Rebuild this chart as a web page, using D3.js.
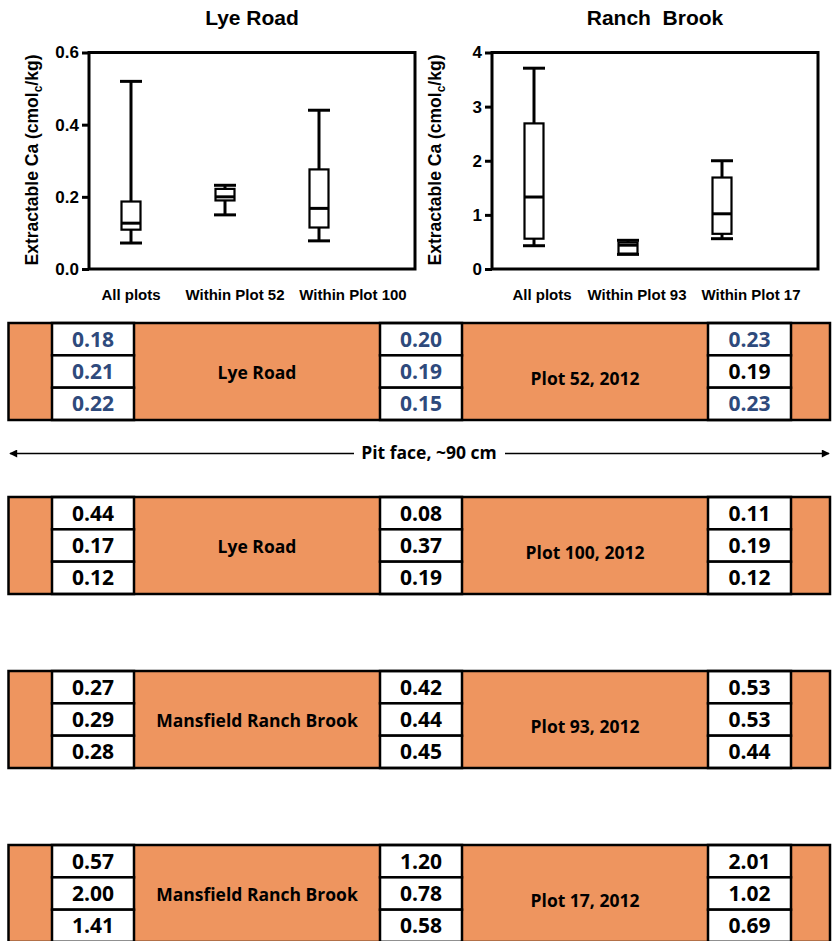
<!DOCTYPE html>
<html>
<head>
<meta charset="utf-8">
<script src="https://cdn.jsdelivr.net/npm/d3@7/dist/d3.min.js"></script>
<style>
  html, body { margin: 0; padding: 0; background: #fff; }
  svg { display: block; }
</style>
</head>
<body>
<svg id="chart" width="832" height="941"></svg>
<script>
// ---------- Box plot data ----------
const lyeCategories = ["All plots", "Within Plot 52", "Within Plot 100"];
const lyeMin = [0.072, 0.15, 0.078];
const lyeQ1  = [0.109, 0.19, 0.115];
const lyeMed = [0.127, 0.20, 0.168];
const lyeQ3  = [0.187, 0.222, 0.276];
const lyeMax = [0.52, 0.232, 0.44];
const lyeTicks = [0.0, 0.2, 0.4, 0.6];

const rbCategories = ["All plots", "Within Plot 93", "Within Plot 17"];
const rbMin = [0.43, 0.27, 0.56];
const rbQ1  = [0.56, 0.285, 0.65];
const rbMed = [1.33, 0.44, 1.02];
const rbQ3  = [2.69, 0.49, 1.69];
const rbMax = [3.71, 0.53, 2.0];
const rbTicks = [0, 1, 2, 3, 4];

// ---------- Table data ----------
const siteLabels = ["Lye Road", "Lye Road", "Mansfield Ranch Brook", "Mansfield Ranch Brook"];
const plotLabels = ["Plot 52, 2012", "Plot 100, 2012", "Plot 93, 2012", "Plot 17, 2012"];
const colA = [["0.18", "0.21", "0.22"], ["0.44", "0.17", "0.12"], ["0.27", "0.29", "0.28"], ["0.57", "2.00", "1.41"]];
const colB = [["0.20", "0.19", "0.15"], ["0.08", "0.37", "0.19"], ["0.42", "0.44", "0.45"], ["1.20", "0.78", "0.58"]];
const colC = [["0.23", "0.19", "0.23"], ["0.11", "0.19", "0.12"], ["0.53", "0.53", "0.44"], ["2.01", "1.02", "0.69"]];
// which values are shown in blue (first panel)
const blueA = [[1, 1, 1], [0, 0, 0], [0, 0, 0], [0, 0, 0]];
const blueB = [[1, 1, 1], [0, 0, 0], [0, 0, 0], [0, 0, 0]];
const blueC = [[1, 0, 1], [0, 0, 0], [0, 0, 0], [0, 0, 0]];

const svg = d3.select("#chart");
const ARIAL = "'Liberation Sans', Arial, sans-serif";
const CAL = "'Open Sans', Lato, sans-serif";
const ORANGE = "#EE955F";
const BLUE = "#2E4A7C";

function boxChart(cfg) {
  const g = svg.append("g");
  const x0 = cfg.left, x1 = cfg.left + 326, y0 = 52.5, y1 = 269;
  const y = d3.scaleLinear().domain([0, cfg.ymax]).range([y1, y0]);
  const x = d3.scalePoint().domain(cfg.cats).range([x0 + 42, x0 + 230]);
  // category labels are offset from the box centres in the original layout
  const xl = d3.scaleOrdinal().domain(cfg.cats).range(cfg.labelOffsets.map(o => x0 + o));

  // title
  g.append("text").attr("x", (x0 + x1) / 2).attr("y", 25)
    .attr("text-anchor", "middle").attr("font-family", ARIAL)
    .attr("font-weight", "bold").attr("font-size", 21)
    .attr("xml:space", "preserve").style("white-space", "pre")
    .text(cfg.title);

  // y axis
  const axis = d3.axisLeft(y).tickValues(cfg.ticks).tickFormat(cfg.fmt).tickSize(7).tickPadding(3);
  const ag = g.append("g").attr("transform", `translate(${x0},0)`).call(axis);
  ag.select(".domain").remove();
  ag.selectAll(".tick line").attr("stroke", "#000").attr("stroke-width", 3);
  ag.selectAll(".tick text").attr("font-family", ARIAL).attr("font-weight", "bold")
    .attr("font-size", 17).attr("fill", "#000");

  // frame
  g.append("rect").attr("x", x0).attr("y", y0).attr("width", x1 - x0).attr("height", y1 - y0)
    .attr("fill", "none").attr("stroke", "#000").attr("stroke-width", 3);

  // y label
  const yl = g.append("text").attr("transform", `translate(${cfg.left - 51},160) rotate(-90)`)
    .attr("text-anchor", "middle").attr("font-family", ARIAL).attr("font-weight", "bold")
    .attr("font-size", 17.5);
  yl.append("tspan").text("Extractable Ca (cmol");
  yl.append("tspan").attr("font-size", 12).attr("dy", 4).text("c");
  yl.append("tspan").attr("dy", -4).text("/kg)");

  // boxes
  const bw = 19, cw = 22;
  cfg.cats.forEach((c, i) => {
    const cx = x(c);
    const bg = g.append("g");
    bg.append("line").attr("x1", cx).attr("x2", cx).attr("y1", y(cfg.max[i])).attr("y2", y(cfg.q3[i]))
      .attr("stroke", "#000").attr("stroke-width", 3);
    bg.append("line").attr("x1", cx).attr("x2", cx).attr("y1", y(cfg.q1[i])).attr("y2", y(cfg.min[i]))
      .attr("stroke", "#000").attr("stroke-width", 3);
    [cfg.max[i], cfg.min[i]].forEach(v => {
      bg.append("line").attr("x1", cx - cw / 2).attr("x2", cx + cw / 2).attr("y1", y(v)).attr("y2", y(v))
        .attr("stroke", "#000").attr("stroke-width", 3);
    });
    bg.append("rect").attr("x", cx - bw / 2).attr("y", y(cfg.q3[i])).attr("width", bw)
      .attr("height", y(cfg.q1[i]) - y(cfg.q3[i])).attr("fill", "#fff")
      .attr("stroke", "#000").attr("stroke-width", 2.2);
    bg.append("line").attr("x1", cx - bw / 2).attr("x2", cx + bw / 2).attr("y1", y(cfg.med[i])).attr("y2", y(cfg.med[i]))
      .attr("stroke", "#000").attr("stroke-width", 3);
    // category label
    g.append("text").attr("x", xl(c)).attr("y", 300).attr("text-anchor", "middle")
      .attr("font-family", ARIAL).attr("font-weight", "bold").attr("font-size", 15)
      .text(c);
  });
}

boxChart({ left: 89, title: "Lye Road", ymax: 0.6, ticks: lyeTicks, fmt: d3.format(".1f"),
  cats: lyeCategories, min: lyeMin, q1: lyeQ1, med: lyeMed, q3: lyeQ3, max: lyeMax,
  labelOffsets: [42, 146, 264] });
boxChart({ left: 492, title: "Ranch  Brook", ymax: 4, ticks: rbTicks, fmt: d3.format("d"),
  cats: rbCategories, min: rbMin, q1: rbQ1, med: rbMed, q3: rbQ3, max: rbMax,
  labelOffsets: [50, 145, 259] });

// ---------- Tables ----------
const colX = [8.5, 52, 134, 380, 462, 708, 791, 830];
const tableTops = [323, 497, 671, 845];
const tableH = 97;

tableTops.forEach((top, t) => {
  const g = svg.append("g");
  const rowY = d3.scaleBand().domain([0, 1, 2]).range([top, top + tableH]);
  // orange background
  g.append("rect").attr("x", colX[0]).attr("y", top).attr("width", colX[7] - colX[0]).attr("height", tableH)
    .attr("fill", ORANGE);
  // number columns
  const cols = [[colX[1], colX[2], colA[t], blueA[t]], [colX[3], colX[4], colB[t], blueB[t]], [colX[5], colX[6], colC[t], blueC[t]]];
  cols.forEach(([a, b, vals, blues]) => {
    vals.forEach((v, r) => {
      g.append("rect").attr("x", a).attr("y", rowY(r)).attr("width", b - a).attr("height", rowY.bandwidth())
        .attr("fill", "#fff").attr("stroke", "#000").attr("stroke-width", 2.5);
      g.append("text").attr("x", (a + b) / 2).attr("y", rowY(r) + rowY.bandwidth() / 2 + 7.5)
        .attr("text-anchor", "middle").attr("font-family", CAL).attr("font-weight", "bold")
        .attr("font-size", 21).attr("fill", blues[r] ? BLUE : "#000").text(v);
    });
  });
  // outer border
  g.append("rect").attr("x", colX[0]).attr("y", top).attr("width", colX[7] - colX[0]).attr("height", tableH)
    .attr("fill", "none").attr("stroke", "#000").attr("stroke-width", 2.5);
  // labels
  g.append("text").attr("x", (colX[2] + colX[3]) / 2).attr("y", top + tableH / 2 + 7)
    .attr("text-anchor", "middle").attr("font-family", CAL).attr("font-weight", "bold")
    .attr("font-size", 17.5).attr("fill", "#000").text(siteLabels[t]);
  g.append("text").attr("x", (colX[4] + colX[5]) / 2).attr("y", top + tableH / 2 + 13)
    .attr("text-anchor", "middle").attr("font-family", CAL).attr("font-weight", "bold")
    .attr("font-size", 17.5).attr("fill", "#000").text(plotLabels[t]);
});

// ---------- Pit face arrow ----------
const defs = svg.append("defs");
defs.append("marker").attr("id", "arr").attr("viewBox", "0 0 10 10").attr("refX", 9).attr("refY", 5)
  .attr("markerWidth", 10).attr("markerHeight", 8).attr("markerUnits", "userSpaceOnUse").attr("orient", "auto")
  .append("path").attr("d", "M0,0 L10,5 L0,10 z").attr("fill", "#000");
svg.append("line").attr("x1", 354).attr("x2", 10).attr("y1", 453.5).attr("y2", 453.5)
  .attr("stroke", "#000").attr("stroke-width", 1.6).attr("marker-end", "url(#arr)");
svg.append("line").attr("x1", 505).attr("x2", 829).attr("y1", 453.5).attr("y2", 453.5)
  .attr("stroke", "#000").attr("stroke-width", 1.6).attr("marker-end", "url(#arr)");
svg.append("text").attr("x", 429).attr("y", 459).attr("text-anchor", "middle")
  .attr("font-family", CAL).attr("font-weight", "bold").attr("font-size", 17.5).text("Pit face, ~90 cm");
</script>
</body>
</html>
